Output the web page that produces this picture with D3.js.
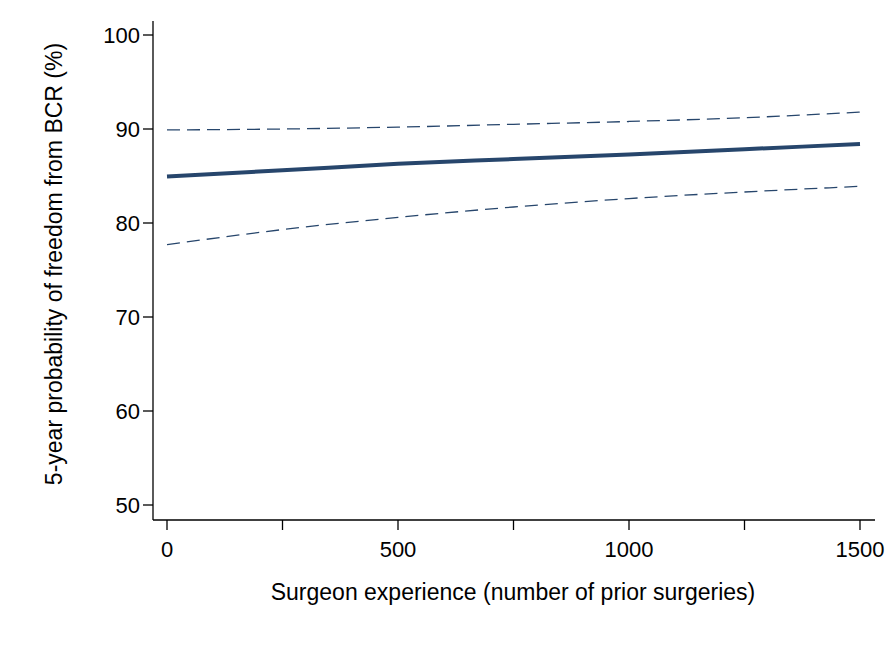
<!DOCTYPE html>
<html>
<head>
<meta charset="utf-8">
<script src="https://cdn.jsdelivr.net/npm/d3@7"></script>
<style>
  body { margin: 0; background: #fff; }
  svg { font-family: "Liberation Sans", Arial, Helvetica, sans-serif; }
</style>
</head>
<body>
<svg id="chart" width="894" height="652"></svg>
<script>
// values
const experience = [0, 250, 500, 750, 1000, 1250, 1500];
const estimate   = [84.95, 85.6, 86.3, 86.8, 87.3, 87.85, 88.4];
const upperCI    = [89.9, 90.0, 90.2, 90.5, 90.8, 91.2, 91.8];
const lowerCI    = [77.7, 79.3, 80.6, 81.7, 82.6, 83.3, 83.9];
const xMajorTicks = [0, 500, 1000, 1500];
const xMinorTicks = [250, 750, 1250];
const yTicks = [50, 60, 70, 80, 90, 100];

const svg = d3.select("#chart");

// axis frame
const axLeft = 153, axBottom = 520, axTop = 21, axRight = 875;

const x = d3.scaleLinear().domain([0, 1500]).range([167, 860]);
const y = d3.scaleLinear().domain([50, 100]).range([505, 35]);

const lineColor = "#27466c";

// y axis
const yAxis = svg.append("g").attr("transform", `translate(${axLeft},0)`);
yAxis.append("line")
    .attr("x1", 0).attr("x2", 0).attr("y1", axTop).attr("y2", axBottom)
    .attr("stroke", "black").attr("stroke-width", 1.3);
yAxis.selectAll(".tick").data(yTicks).enter().append("line")
    .attr("x1", -10).attr("x2", 0)
    .attr("y1", d => y(d)).attr("y2", d => y(d))
    .attr("stroke", "black").attr("stroke-width", 1.3);
yAxis.selectAll(".lbl").data(yTicks).enter().append("text")
    .attr("x", -13).attr("y", d => y(d))
    .attr("dy", "0.36em")
    .attr("text-anchor", "end")
    .attr("font-size", 22)
    .text(d => d);

// x axis
const xAxis = svg.append("g").attr("transform", `translate(0,${axBottom})`);
xAxis.append("line")
    .attr("x1", axLeft).attr("x2", axRight).attr("y1", 0).attr("y2", 0)
    .attr("stroke", "black").attr("stroke-width", 1.3);
xAxis.selectAll(".tick").data(xMajorTicks.concat(xMinorTicks)).enter().append("line")
    .attr("x1", d => x(d)).attr("x2", d => x(d))
    .attr("y1", 0).attr("y2", 10)
    .attr("stroke", "black").attr("stroke-width", 1.3);
xAxis.selectAll(".lbl").data(xMajorTicks).enter().append("text")
    .attr("x", d => x(d)).attr("y", 37)
    .attr("text-anchor", "middle")
    .attr("font-size", 22)
    .text(d => d);

// axis titles
svg.append("text")
    .attr("x", 513).attr("y", 600)
    .attr("text-anchor", "middle")
    .attr("font-size", 23)
    .text("Surgeon experience (number of prior surgeries)");

svg.append("text")
    .attr("transform", `translate(62,264) rotate(-90)`)
    .attr("text-anchor", "middle")
    .attr("font-size", 23)
    .text("5-year probability of freedom from BCR (%)");

// lines
const line = d3.line()
    .x((d, i) => x(experience[i]))
    .y(d => y(d))
    .curve(d3.curveMonotoneX);

svg.append("path").datum(upperCI)
    .attr("d", line).attr("fill", "none")
    .attr("stroke", lineColor).attr("stroke-width", 1.3)
    .attr("stroke-dasharray", "13,7");

svg.append("path").datum(lowerCI)
    .attr("d", line).attr("fill", "none")
    .attr("stroke", lineColor).attr("stroke-width", 1.3)
    .attr("stroke-dasharray", "13,7");

svg.append("path").datum(estimate)
    .attr("d", line).attr("fill", "none")
    .attr("stroke", lineColor).attr("stroke-width", 4);
</script>
</body>
</html>
